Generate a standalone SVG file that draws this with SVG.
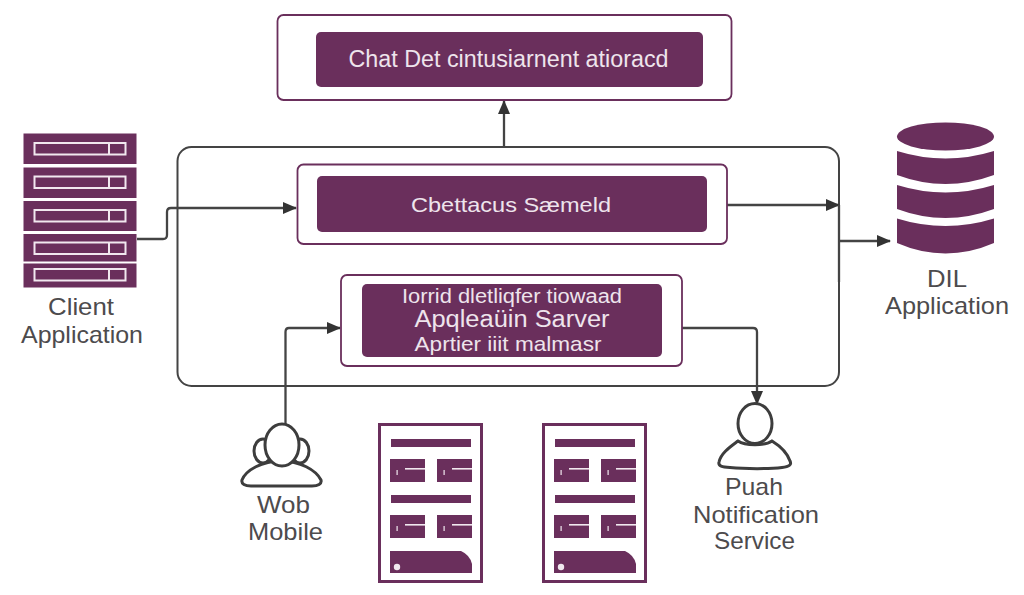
<svg xmlns="http://www.w3.org/2000/svg" width="1024" height="595" viewBox="0 0 1024 595">
<style>
text{font-family:"Liberation Sans",Arial,sans-serif;text-anchor:middle}
.lb{font-size:24px;fill:#4d4b4d}
.in{fill:#eee4ec}
.outer{fill:#fff;stroke:#6a2f5c;stroke-width:1.8}
.inner{fill:#6a2f5c}
.pl{fill:#6a2f5c}
.slot{fill:none;stroke:#f1e8ef;stroke-width:2}
.cn{fill:none;stroke:#444;stroke-width:2.300}
.person{fill:#fff;stroke:#3d3d3d;stroke-width:3}
.doc{fill:#fff;stroke:#6a2f5c;stroke-width:3}
.wh{fill:#f1e8ef}
</style>
<defs>
<marker id="ah" viewBox="0 0 14 12" refX="13" refY="6" markerWidth="14" markerHeight="12" markerUnits="userSpaceOnUse" orient="auto"><path d="M0 0L14 6L0 12Z" fill="#333"/></marker>
<g id="cell"><rect width="35" height="23" class="pl"/><rect x="15" y="9" width="20" height="1.600" class="wh"/><rect x="6.500" y="11" width="1.200" height="5" class="wh"/></g>
<g id="docshape">
<rect x="1.500" y="1.500" width="102" height="157" class="doc"/>
<rect x="13" y="16" width="80" height="8" class="pl"/>
<use href="#cell" x="12" y="36"/><use href="#cell" x="59" y="36"/>
<rect x="13" y="72" width="80" height="8" class="pl"/>
<use href="#cell" x="12" y="92"/><use href="#cell" x="59" y="92"/>
<path d="M12 128H83Q92 132 94 141V150H12Z" class="pl"/>
<circle cx="19" cy="144" r="3.200" class="wh"/>
</g>
<g id="slot"><rect x="34.500" y="0" width="91" height="11.500" class="slot"/><path d="M109 0V11.500" class="slot"/></g>
</defs>

<rect id="container" x="177.500" y="147" width="661.500" height="239" rx="14" fill="#fff" stroke="#444" stroke-width="2"/>

<g id="connectors">
<path class="cn" d="M137 239H163Q167 239 167 235V212Q167 208 171 208H296" marker-end="url(#ah)"/>
<path class="cn" d="M504 147V101" marker-end="url(#ah)"/>
<path class="cn" d="M727 205H839" marker-end="url(#ah)"/>
<path class="cn" d="M839 241H890" marker-end="url(#ah)"/>
<path class="cn" d="M839 205V282" stroke-width="2.600"/>
<path class="cn" d="M285.500 424V332Q285.500 328 289 328H340" marker-end="url(#ah)"/>
<path class="cn" d="M682 328H753Q757 328 757 332V404" marker-end="url(#ah)"/>
</g>

<g id="node-top">
<rect class="outer" x="277.500" y="15" width="454" height="85" rx="6"/>
<rect class="inner" x="316" y="32" width="387" height="55" rx="5"/>
<text class="in" x="508.500" y="67" font-size="23" textLength="320" lengthAdjust="spacingAndGlyphs">Chat Det cintusiarnent atioracd</text>
</g>

<g id="node-mid">
<rect class="outer" x="297.500" y="164.500" width="429.500" height="79.500" rx="6"/>
<rect class="inner" x="317" y="176" width="390" height="56" rx="5"/>
<text class="in" x="511" y="212" font-size="21" textLength="200" lengthAdjust="spacingAndGlyphs">Cbettacus Sæmeld</text>
</g>

<g id="node-app">
<rect class="outer" x="341" y="275" width="341" height="91" rx="6"/>
<rect class="inner" x="362" y="284" width="300" height="73" rx="5"/>
<text class="in" x="512" y="303" font-size="20" textLength="220" lengthAdjust="spacingAndGlyphs">Iorrid dletliqfer tiowaad</text>
<text class="in" x="512" y="327" font-size="23" textLength="195" lengthAdjust="spacingAndGlyphs">Apqleaüin Sarver</text>
<text class="in" x="508" y="351" font-size="21" textLength="187" lengthAdjust="spacingAndGlyphs">Aprtier iiit malmasr</text>
</g>

<g id="node-client">
<rect class="pl" x="23.500" y="133.500" width="113" height="30.500"/>
<rect class="pl" x="23.500" y="167.500" width="113" height="30.500"/>
<rect class="pl" x="23.500" y="201" width="113" height="30"/>
<rect class="pl" x="23.500" y="234" width="113" height="27.500"/>
<rect class="pl" x="23.500" y="263.500" width="113" height="24"/>
<use href="#slot" y="143"/><use href="#slot" y="176.500"/><use href="#slot" y="210"/><use href="#slot" y="242.500"/><use href="#slot" y="269"/>
<text class="lb" x="81" y="315" textLength="66" lengthAdjust="spacingAndGlyphs">Client</text>
<text class="lb" x="82" y="343" textLength="122" lengthAdjust="spacingAndGlyphs">Application</text>
</g>

<g id="node-db">
<ellipse class="pl" cx="945.500" cy="136.500" rx="48.500" ry="14"/>
<path class="pl" d="M897 151Q945.500 166 994 151V175Q945.500 193 897 175Z"/>
<path class="pl" d="M897 185Q945.500 200 994 185V209Q945.500 227 897 209Z"/>
<path class="pl" d="M897 218.500Q945.500 233.500 994 218.500V243Q945.500 264 897 243Z"/>
<text class="lb" x="947" y="287" textLength="40" lengthAdjust="spacingAndGlyphs">DIL</text>
<text class="lb" x="947" y="314" textLength="124" lengthAdjust="spacingAndGlyphs">Application</text>
</g>

<g id="node-web">
<ellipse class="person" cx="263" cy="451" rx="9" ry="12"/>
<ellipse class="person" cx="300" cy="451" rx="9" ry="12"/>
<path class="person" d="M242 480C246 470 262 461 281 461C300 461 316 470 321 480C322 484 318 486 312 486H251C245 486 241 484 242 480Z"/>
<ellipse class="person" cx="282" cy="445" rx="17" ry="21"/>
<text class="lb" x="283.500" y="513" textLength="53" lengthAdjust="spacingAndGlyphs">Wob</text>
<text class="lb" x="285.500" y="540" textLength="75" lengthAdjust="spacingAndGlyphs">Mobile</text>
</g>

<use id="node-doc-1" href="#docshape" x="378" y="423"/>
<use id="node-doc-2" href="#docshape" x="542" y="423"/>

<g id="node-push">
<ellipse class="person" cx="755" cy="423.500" rx="17" ry="20"/>
<path class="person" d="M738 441C730 447 721 453 719 462C718 466 722 467 730 467.500C745 469 770 469 782 467.500C789 466.500 792 465 790 461C787 452 780 446 772 441C765 446 745 446 738 441Z"/>
<text class="lb" x="754" y="495" textLength="58" lengthAdjust="spacingAndGlyphs">Puah</text>
<text class="lb" x="756" y="523" textLength="126" lengthAdjust="spacingAndGlyphs">Notification</text>
<text class="lb" x="754.500" y="549" textLength="81" lengthAdjust="spacingAndGlyphs">Service</text>
</g>
</svg>
